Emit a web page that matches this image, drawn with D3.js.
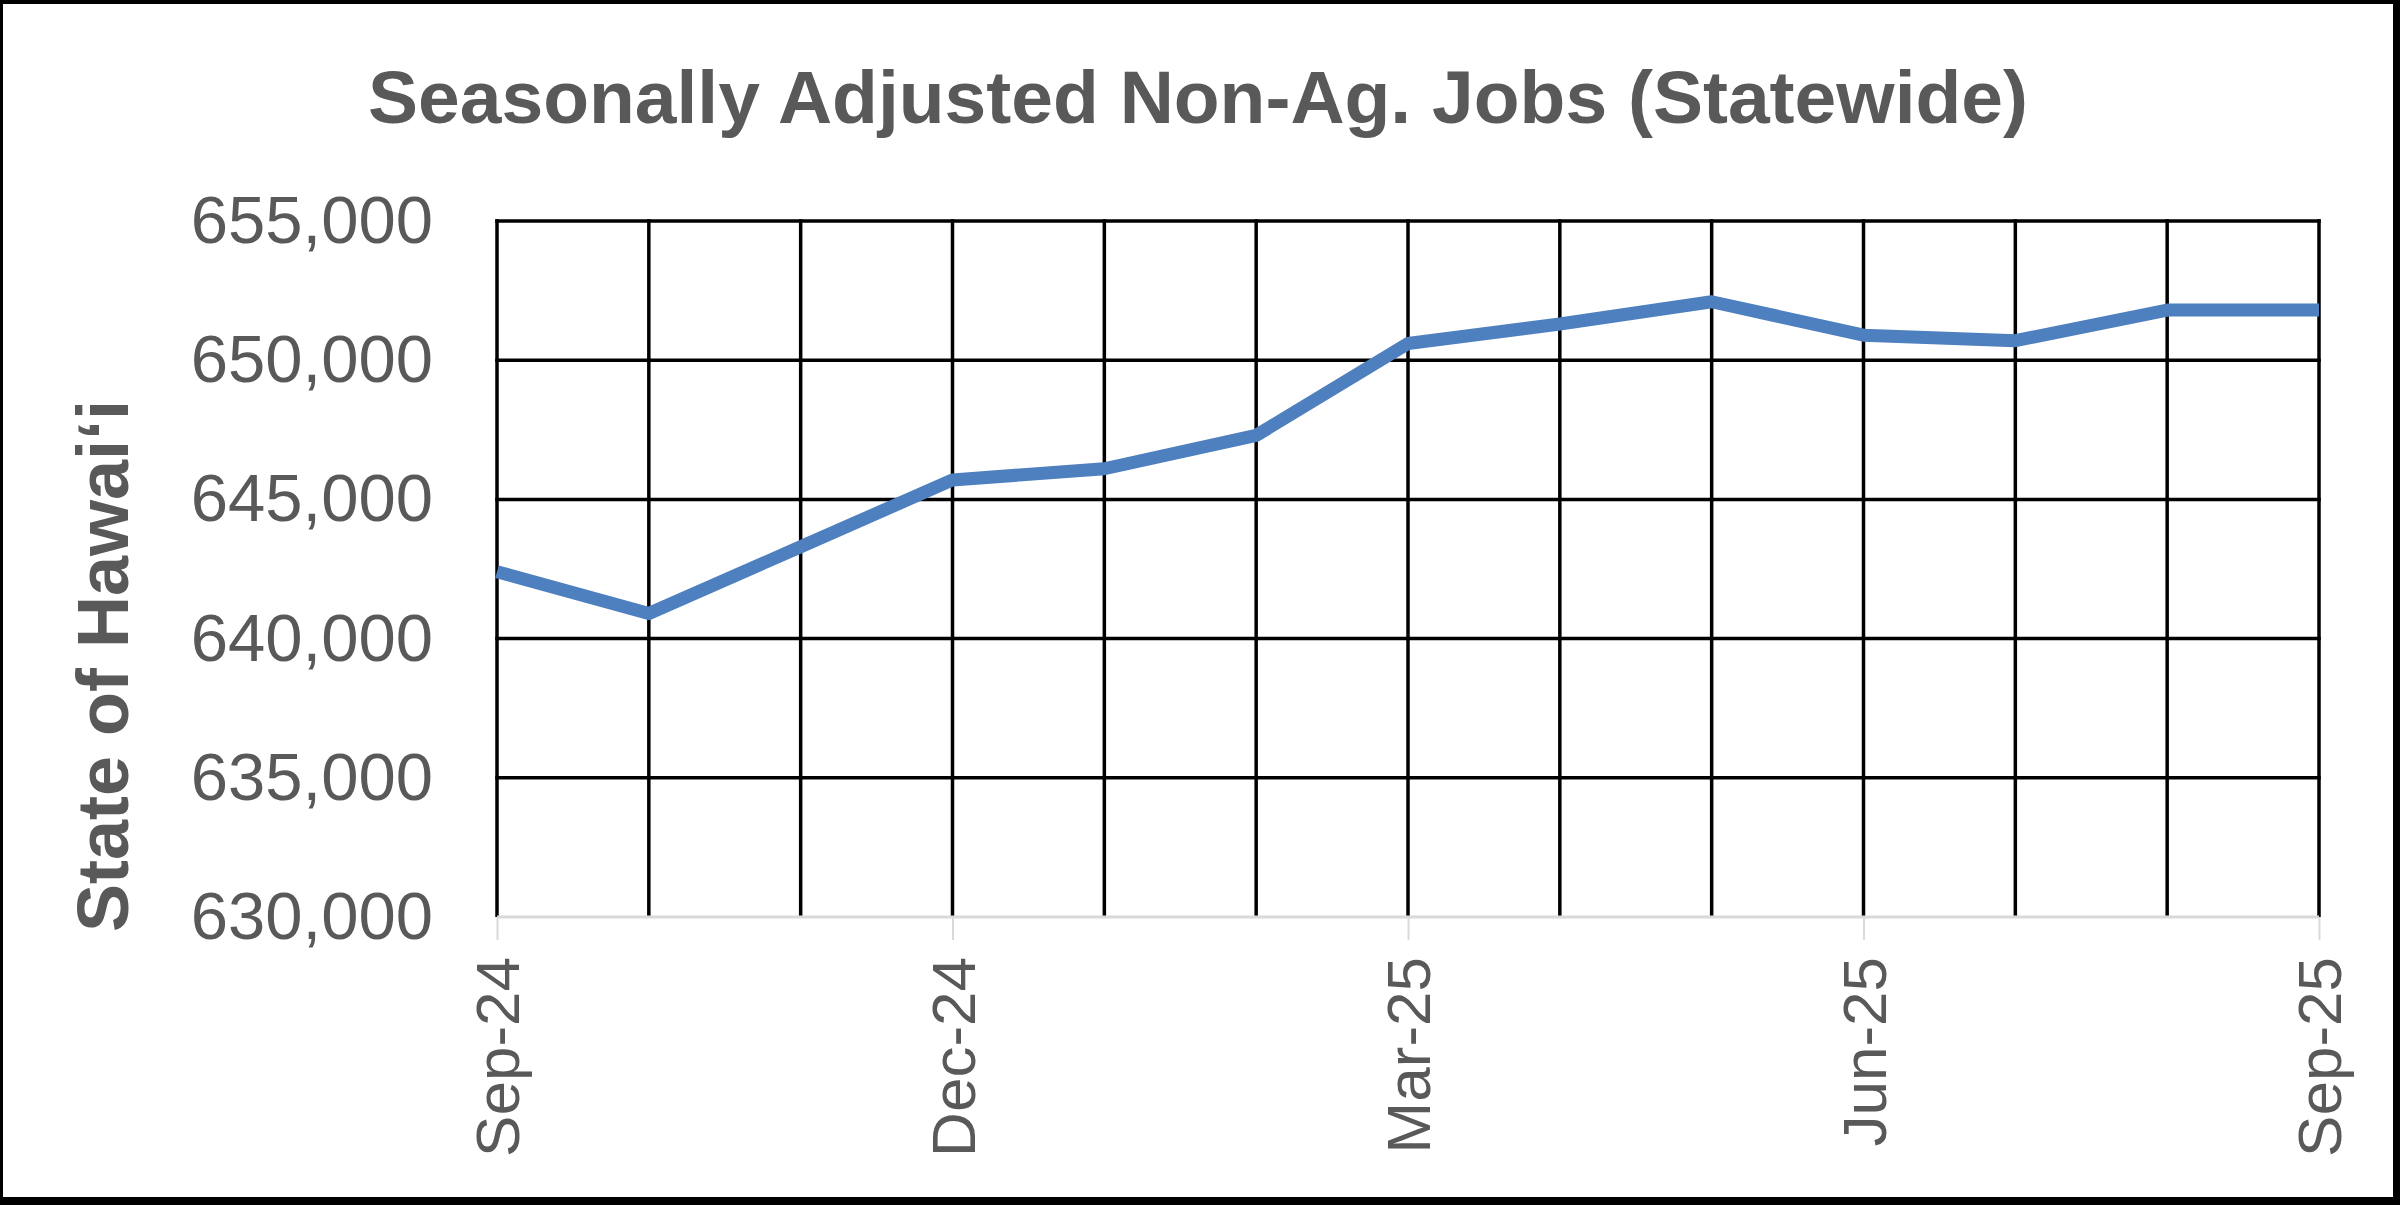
<!DOCTYPE html>
<html>
<head>
<meta charset="utf-8">
<script src="https://cdn.jsdelivr.net/npm/d3@7"></script>
<style>
  html, body { margin: 0; padding: 0; background: #fff; }
  svg { display: block; }
  text { font-family: "Liberation Sans", Arial, sans-serif; }
</style>
</head>
<body>
<svg id="chart" width="2400" height="1205"></svg>
<script>
// ---- data ----
const months = ["Sep-24","Oct-24","Nov-24","Dec-24","Jan-25","Feb-25","Mar-25","Apr-25","May-25","Jun-25","Jul-25","Aug-25","Sep-25"];
const jobs = [642400, 640900, 643300, 645700, 646100, 647300, 650600, 651300, 652100, 650900, 650700, 651800, 651800];
const yTicks = [630000, 635000, 640000, 645000, 650000, 655000];
const xTickLabels = ["Sep-24","Dec-24","Mar-25","Jun-25","Sep-25"];
const titleText = "Seasonally Adjusted Non-Ag. Jobs (Statewide)";
const yAxisTitle = "State of Hawai\u02BBi";

// ---- layout ----
const W = 2400, H = 1205;
const plot = { left: 497, right: 2319, top: 221, bottom: 917 };
const gray = "#595959";

const svg = d3.select("#chart");

// frame
svg.append("rect").attr("x", 0).attr("y", 0).attr("width", W).attr("height", H).attr("fill", "#000");
svg.append("rect").attr("x", 3).attr("y", 4).attr("width", 2390).attr("height", 1193).attr("fill", "#fff");

const x = d3.scalePoint().domain(months).range([plot.left, plot.right]);
const y = d3.scaleLinear().domain([630000, 655000]).range([plot.bottom, plot.top]);

// horizontal gridlines (except baseline)
svg.append("g").selectAll("line")
  .data(yTicks.filter(v => v !== 630000))
  .join("line")
  .attr("x1", plot.left - 1.75).attr("x2", plot.right + 1.75)
  .attr("y1", d => y(d)).attr("y2", d => y(d))
  .attr("stroke", "#000").attr("stroke-width", 3.5);

// vertical gridlines
svg.append("g").selectAll("line")
  .data(months)
  .join("line")
  .attr("x1", d => x(d)).attr("x2", d => x(d))
  .attr("y1", plot.top - 1.75).attr("y2", plot.bottom)
  .attr("stroke", "#000").attr("stroke-width", 3.5);

// x axis (light gray baseline + ticks)
const xAxis = d3.axisBottom(x)
  .tickValues(xTickLabels)
  .tickSize(23)
  .tickPadding(0)
  .tickFormat(() => "");
const gx = svg.append("g").attr("transform", `translate(0,${plot.bottom})`).call(xAxis);
gx.select(".domain").attr("stroke", "#d9d9d9").attr("stroke-width", 3).attr("d", `M${plot.left},0H${plot.right}`);
gx.selectAll(".tick line").attr("stroke", "#d9d9d9").attr("stroke-width", 2);

// x tick labels (rotated)
svg.append("g").selectAll("text")
  .data(xTickLabels)
  .join("text")
  .attr("transform", d => `translate(${x(d)},957) rotate(-90)`)
  .attr("text-anchor", "end")
  .attr("dy", "0.36em")
  .attr("font-size", 62)
  .attr("fill", gray)
  .text(d => d);

// y axis labels
const yAxis = d3.axisLeft(y)
  .tickValues(yTicks)
  .tickSize(0)
  .tickPadding(64)
  .tickFormat(d3.format(","));
const gy = svg.append("g").attr("transform", `translate(${plot.left},0)`).call(yAxis);
gy.select(".domain").remove();
gy.selectAll(".tick text")
  .attr("font-family", "'Liberation Sans', Arial, sans-serif")
  .attr("font-size", 67)
  .attr("fill", gray);

// line
const line = d3.line()
  .x((d, i) => x(months[i]))
  .y(d => y(d));
svg.append("path")
  .datum(jobs)
  .attr("d", line)
  .attr("fill", "none")
  .attr("stroke", "#4e7fbe")
  .attr("stroke-width", 13)
  .attr("stroke-linejoin", "round")
  .attr("stroke-linecap", "butt");

// title
svg.append("text")
  .attr("x", 1198).attr("y", 123)
  .attr("text-anchor", "middle")
  .attr("font-size", 75)
  .attr("font-weight", "bold")
  .attr("fill", gray)
  .text(titleText);

// y axis title
svg.append("text")
  .attr("transform", "translate(128,666) rotate(-90)")
  .attr("text-anchor", "middle")
  .attr("font-size", 72)
  .attr("font-weight", "bold")
  .attr("fill", gray)
  .text(yAxisTitle);
</script>
</body>
</html>
